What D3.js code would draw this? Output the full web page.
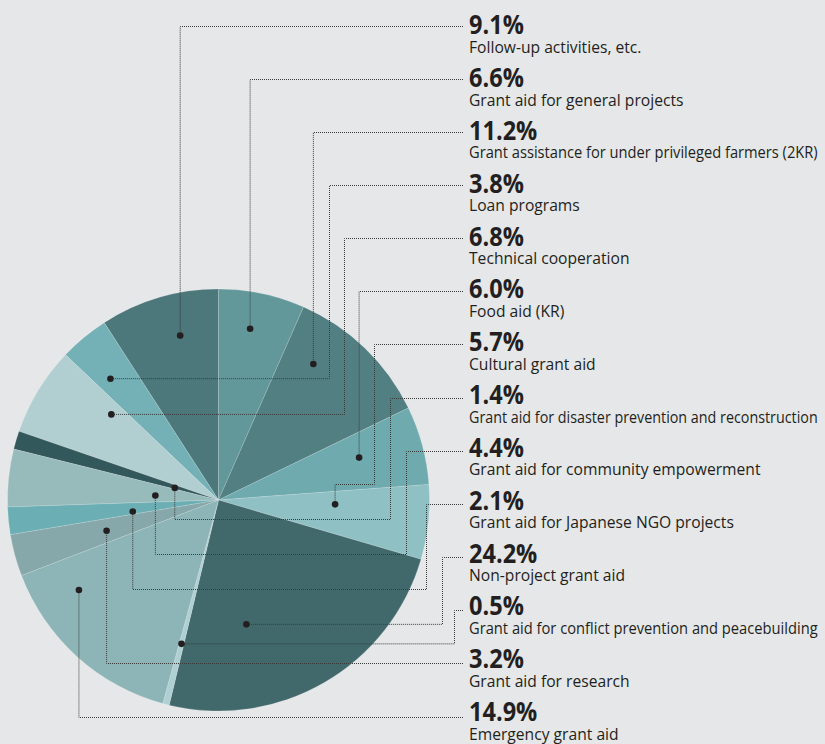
<!DOCTYPE html>
<html>
<head>
<meta charset="utf-8">
<script src="https://cdn.jsdelivr.net/npm/d3@7"></script>
<style>
  body { margin: 0; background: #e6e7e8; }
  svg { display: block; }
  .pct { font-family: "Open Sans", "Noto Sans", sans-serif; font-weight: bold; font-size: 26px; fill: #231f20; }
  .desc { font-family: "Open Sans", "Noto Sans", sans-serif; font-size: 17px; fill: #231f20; }
</style>
</head>
<body>
<svg width="825" height="744"></svg>
<script>
// categories in the order the labels are listed
const categories = [
  'Follow-up activities, etc.',
  'Grant aid for general projects',
  'Grant assistance for under privileged farmers (2KR)',
  'Loan programs',
  'Technical cooperation',
  'Food aid (KR)',
  'Cultural grant aid',
  'Grant aid for disaster prevention and reconstruction',
  'Grant aid for community empowerment',
  'Grant aid for Japanese NGO projects',
  'Non-project grant aid',
  'Grant aid for conflict prevention and peacebuilding',
  'Grant aid for research',
  'Emergency grant aid'
];
const shares = [9.1, 6.6, 11.2, 3.8, 6.8, 6.0, 5.7, 1.4, 4.4, 2.1, 24.2, 0.5, 3.2, 14.9];
// order of the slices, clockwise from 12 o'clock (index into categories)
const sliceOrder = [1, 2, 5, 6, 10, 11, 13, 12, 9, 8, 7, 4, 3, 0];

const sliceColors = ['#4c777b', '#63989b', '#527f82', '#73b1b6', '#b1cfd1', '#6eaaae', '#8fc0c4',
                     '#33585b', '#97babb', '#6bafb4', '#41696c', '#aed0d3', '#87a8aa', '#8db5b7'];

// where each leader ends inside its slice: t = position across the slice, rf = share of radius
// lane = x of the vertical run (null -> straight to the dot), turn = y of the second bend
const leaders = [
  {t: 0.60, rf: 0.80},
  {t: 0.44, rf: 0.825},
  {t: 0.275, rf: 0.786},
  {t: 0.35, rf: 0.77, lane: 329.5},
  {t: 0.80, rf: 0.65, lane: 344.5},
  {t: 0.42, rf: 0.696},
  {t: 0.31, rf: 0.553, lane: 374.5, turn: 484.5},
  {t: 0.30, rf: 0.215, lane: 390.5, turn: 519.5},
  {t: 0.38, rf: 0.30, lane: 406.5, turn: 554.5},
  {t: 0.24, rf: 0.41, lane: 426.5, turn: 589.5},
  {t: 0.70, rf: 0.604, lane: 442.5},
  {t: 0.50, rf: 0.704, lane: 454.5},
  {t: 0.49, rf: 0.55},
  {t: 0.78, rf: 0.787}
];

const svg = d3.select('svg');
const cx = 218.5, cy = 500, radius = 211;
const labelX = 469, leaderEnd = 463, maxDescWidth = 349;
const n = categories.length;
const leaderY = d3.scaleLinear().domain([0, n - 1]).range([25.5, 716.5]);
const textY = d3.scaleLinear().domain([0, n - 1]).range([34.3, 721]);

const color = d3.scaleOrdinal().domain(categories).range(sliceColors);

const rows = categories.map((c, i) => ({name: c, value: shares[i], idx: i}));

const pie = d3.pie()
    .value(d => d.value)
    .sort((a, b) => sliceOrder.indexOf(a.idx) - sliceOrder.indexOf(b.idx))
    .startAngle(0)
    .endAngle(2 * Math.PI);

const arcs = pie(rows);
const arc = d3.arc().innerRadius(0).outerRadius(radius);

const g = svg.append('g').attr('transform', `translate(${cx},${cy})`);

g.selectAll('path.slice')
    .data(arcs)
    .enter()
    .append('path')
    .attr('class', 'slice')
    .attr('d', arc)
    .attr('fill', d => color(d.data.name))
    .attr('stroke', 'rgba(255,255,255,0.22)')
    .attr('stroke-width', 0.7);

// anchor point of each leader, from the slice angles
const anchors = {};
arcs.forEach(d => {
    const L = leaders[d.data.idx];
    const a = d.startAngle + L.t * (d.endAngle - d.startAngle);
    const p = d3.pointRadial(a, L.rf * radius);
    anchors[d.data.idx] = [cx + p[0], cy + p[1]];
});

const leaderPath = (d, i) => {
    const L = leaders[i];
    const [dx, dy] = anchors[i];
    const y = Math.round(leaderY(i)) + 0.5;
    const lane = L.lane != null ? L.lane : dx;
    const turn = L.turn != null ? L.turn : dy;
    const p = d3.path();
    p.moveTo(leaderEnd, y);
    p.lineTo(lane, y);
    p.lineTo(lane, turn);
    p.lineTo(dx, turn);
    p.lineTo(dx, dy);
    return p.toString();
};

svg.selectAll('path.leader')
    .data(rows)
    .enter()
    .append('path')
    .attr('class', 'leader')
    .attr('d', (d, i) => leaderPath(d, i))
    .attr('fill', 'none')
    .attr('stroke', '#3a3a3a')
    .attr('stroke-width', 1)
    .attr('stroke-dasharray', '1 1');

svg.selectAll('circle.dot')
    .data(rows)
    .enter()
    .append('circle')
    .attr('class', 'dot')
    .attr('cx', d => anchors[d.idx][0])
    .attr('cy', d => anchors[d.idx][1])
    .attr('r', 3.3)
    .attr('fill', '#231f20');

const labels = svg.selectAll('g.label')
    .data(rows)
    .enter()
    .append('g')
    .attr('class', 'label')
    .attr('transform', (d, i) => `translate(${labelX},${textY(i)})`);

const pctText = labels.append('text')
    .attr('class', 'pct')
    .text(d => d.value.toFixed(1) + '%');

const descText = labels.append('text')
    .attr('class', 'desc')
    .text(d => d.name);

// the original uses a condensed face: squeeze the text horizontally to similar widths
const pctScale = 68.3 / pctText.filter(d => d.idx === 13).node().getComputedTextLength();
const descScale = 291.7 / descText.filter(d => d.idx === 8).node().getComputedTextLength();

pctText.attr('transform', `scale(${pctScale},1)`);
descText.attr('transform', function() {
    const w = this.getComputedTextLength();
    const s = Math.min(descScale, maxDescWidth / w);
    return `translate(0,18.5) scale(${s},1)`;
});
</script>
</body>
</html>
